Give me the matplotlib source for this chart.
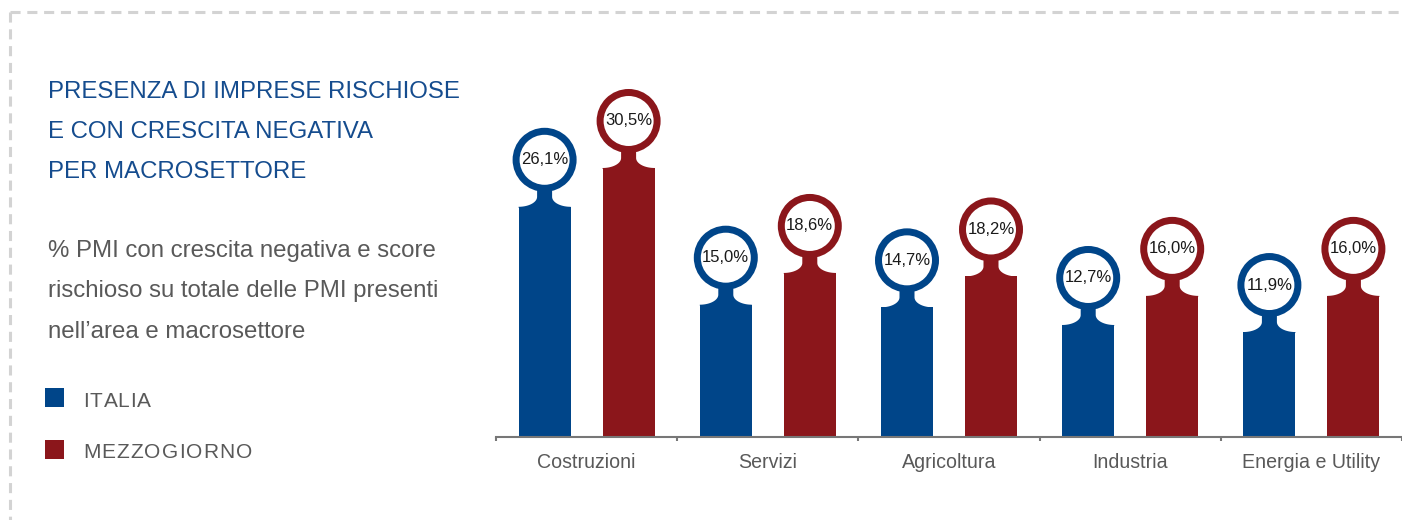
import numpy as np
import matplotlib.pyplot as plt
from matplotlib.patches import Ellipse, Polygon
from matplotlib.lines import Line2D

plt.rcParams['font.family'] = ['Liberation Sans', 'DejaVu Sans']

categories = ['Costruzioni', 'Servizi', 'Agricoltura', 'Industria', 'Energia e Utility']
italia = [26.1, 15.0, 14.7, 12.7, 11.9]
mezzogiorno = [30.5, 18.6, 18.2, 16.0, 16.0]
series_names = ['ITALIA', 'MEZZOGIORNO']

blue = '#004589'
red = '#8b161b'
gray = '#595959'

W, H = 1402, 520
fig = plt.figure(figsize=(W/100, H/100), dpi=100)

# axes in pixel geometry
ax_left, ax_bottom, ax_w, ax_h = 496, 83, 906, 437
ax = fig.add_axes([ax_left/W, ax_bottom/H, ax_w/W, ax_h/H])
px_per_pct = 8.82
ax.set_xlim(-0.5, 4.5)
ax.set_ylim(0, ax_h/px_per_pct)
sx = 5.0/ax_w          # data x per pixel
sy = 1.0/px_per_pct    # data y per pixel

x = np.arange(len(categories))
off = 42*sx
bw = 52*sx
ax.bar(x - off, italia, width=bw, color=blue, zorder=2)
ax.bar(x + off, mezzogiorno, width=bw, color=red, zorder=2)

def keyhole(xc, top, color, val):
    w, fx, fy = 7.5, 18.5, 10
    cy = 47
    t1 = np.linspace(np.pi*1.5, np.pi*2, 20)
    left = [(-(w+fx) + fx*np.cos(t), fy + fy*np.sin(t)) for t in t1]
    t2 = np.linspace(np.pi, np.pi*1.5, 20)
    right = [((w+fx) + fx*np.cos(t), fy + fy*np.sin(t)) for t in t2]
    pts = [(-(w+fx), -1)] + left + [(-w, cy), (w, cy)] + right + [((w+fx), -1)]
    pts = [(xc + px*sx, top + py*sy) for px, py in pts]
    ax.add_patch(Polygon(pts, closed=True, facecolor=color, edgecolor='none', zorder=3, clip_on=False))
    ro, ri = 32, 25
    c = (xc, top + cy*sy)
    ax.add_patch(Ellipse(c, 2*ro*sx, 2*ro*sy, facecolor=color, edgecolor='none', zorder=4, clip_on=False))
    ax.add_patch(Ellipse(c, 2*ri*sx, 2*ri*sy, facecolor='white', edgecolor='none', zorder=5, clip_on=False))
    ax.text(c[0], c[1], f"{val:.1f}".replace('.', ',') + '%', ha='center', va='center',
            fontsize=12, color='#1a1a1a', zorder=6)

for i in range(len(categories)):
    keyhole(x[i] - off, italia[i], blue, italia[i])
    keyhole(x[i] + off, mezzogiorno[i], red, mezzogiorno[i])
    ax.text(x[i], -31*sy, categories[i], ha='center', va='baseline', fontsize=14.1, color=gray)

for s in ['left', 'top', 'right']:
    ax.spines[s].set_visible(False)
ax.spines['bottom'].set_color('#777777')
ax.spines['bottom'].set_linewidth(1.5)
ax.set_yticks([])
ax.set_xticks(np.arange(-0.5, 5, 1))
ax.set_xticklabels([])
ax.tick_params(axis='x', length=3, width=1.5, color='#777777')

# left panel text
def fy_(py):
    return 1 - py/H

title = ['PRESENZA DI IMPRESE RISCHIOSE', 'E CON CRESCITA NEGATIVA', 'PER MACROSETTORE']
for i, line in enumerate(title):
    fig.text(48/W, fy_(98 + 40*i), line, fontsize=17.3, color='#154c8e', va='baseline')

subtitle = ['% PMI con crescita negativa e score', 'rischioso su totale delle PMI presenti',
            'nell\u2019area e macrosettore']
for i, line in enumerate(subtitle):
    fig.text(48/W, fy_(257 + 40.5*i), line, fontsize=17.3, color=gray, va='baseline')

# legend with letter spacing
renderer = fig.canvas.get_renderer()

def spaced_text(x0, y0, s, spacing, **kw):
    for k, ch in enumerate(s):
        if k == 0:
            adv = 0
        else:
            t = fig.text(0, 0, s[:k], **kw)
            adv = t.get_window_extent(renderer).width
            t.remove()
        fig.text((x0 + adv + spacing*k)/W, y0, ch, **kw)

for i, (name, col) in enumerate(zip(series_names, [blue, red])):
    top = 388 + 52*i
    fig.patches.append(plt.Rectangle((45/W, fy_(top + 19)), 19/W, 19/H, transform=fig.transFigure,
                                     facecolor=col, edgecolor='none'))
    spaced_text(83, fy_(407 + 51*i), name, 1.1, fontsize=15, color=gray, va='baseline')

# dashed border
dash = dict(color='#d3d3d3', lw=2.2, linestyle=(0, (3.3, 2.2)), solid_capstyle='butt')
fig.add_artist(Line2D([10/W, 1], [fy_(12), fy_(12)], transform=fig.transFigure, **dash))
fig.add_artist(Line2D([10/W, 10/W], [fy_(12), 0], transform=fig.transFigure, **dash))

fig.savefig('out.png', dpi=100)
